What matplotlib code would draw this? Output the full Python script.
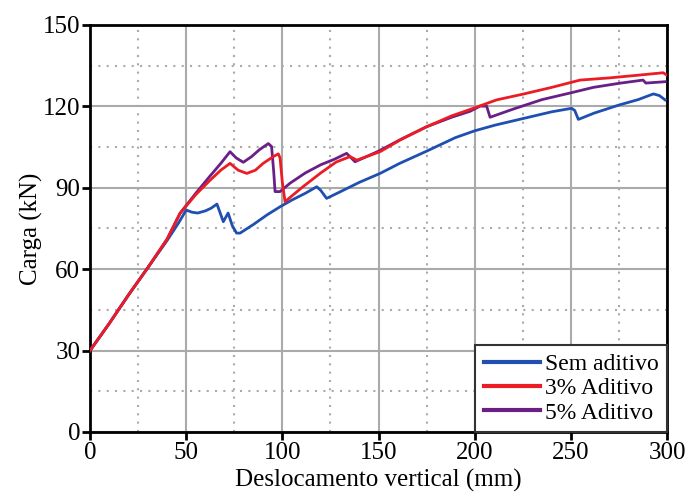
import matplotlib
matplotlib.use("Agg")
import matplotlib.pyplot as plt
from matplotlib.ticker import MultipleLocator

plt.rcParams['font.family'] = ['Liberation Serif', 'DejaVu Serif']

# Sem aditivo
x_sem = [0, 10, 20, 30, 40, 46, 50, 53, 56, 60, 63, 66, 69.3, 71.8, 74, 76.2, 78, 85, 92, 98.8,
         105, 112, 117.9, 120, 123, 130, 140, 150.8, 161, 175, 190, 200, 210.6, 225, 240, 250.4,
         252, 253.9, 262, 275, 285, 292.9, 296, 299]
y_sem = [30, 40, 50.5, 60.5, 70.5, 77, 81.8, 81, 80.7, 81.5, 82.5, 84, 77.5, 80.7, 76, 73.3, 73.3, 76.5, 80, 83,
         85.5, 88, 90.4, 89, 86.1, 88.5, 92, 95.3, 99, 103.5, 108.5, 111, 113.1, 115.5, 118, 119.3,
         118.5, 115.2, 117.5, 120.5, 122.5, 124.6, 124, 122.4]

# 3% Aditivo
x_3 = [0, 10, 20, 30, 40, 46.8, 55, 62, 68, 72.8, 77, 81.5, 86, 90, 95.3, 97.9, 98.8, 100, 101.4,
       110, 120, 128, 135.2, 138.7, 150.8, 161.2, 175, 188, 199.3, 211.4, 225, 240, 254.8, 270,
       285, 298, 300]
y_3 = [30, 40, 50.5, 60.5, 71, 80.6, 87.5, 92.5, 96.5, 99, 96.5, 95.3, 96.5, 99, 101.5, 102.5, 101, 92, 84.9,
       90, 95.5, 99.5, 101.5, 100.2, 103.3, 107.6, 112.5, 116.5, 119.3, 122.4, 124.5, 127, 129.7, 130.5,
       131.5, 132.4, 131.5]

# 5% Aditivo
x_5 = [0, 10, 20, 30, 40, 46.8, 55, 62, 68, 72.8, 76, 79.7, 84, 88, 92.7, 94.4, 95.5, 96.2, 98.8,
       104, 112, 120, 127, 133.4, 137.8, 150, 162, 175, 188, 197.6, 202.8, 206.2, 208, 220,
       235, 250, 261.6, 275, 287.5, 289, 299]
y_5 = [30, 40, 50.5, 60.5, 71, 80.6, 88, 94, 99, 103.3, 101, 99.4, 101.5, 104, 106.3, 105.2, 96, 88.6, 88.6,
       91.7, 95.5, 98.5, 100.5, 102.7, 99.6, 103.5, 108, 112.5, 116, 118.2, 120.1, 120.1, 116, 119,
       122.5, 125, 127, 128.5, 129.7, 128.6, 129.1]

labels = ["Sem aditivo", "3% Aditivo", "5% Aditivo"]
colors = ["#1f4fb0", "#ec1c24", "#6a1f86"]

fig = plt.figure(figsize=(7.0, 4.95), dpi=100)
ax = fig.add_axes([0.1286, 0.1273, 0.8243, 0.8222])

ax.plot(x_sem, y_sem, color=colors[0], lw=2.0, label=labels[0], zorder=3)
ax.plot(x_5, y_5, color=colors[2], lw=2.0, label=labels[2], zorder=3)
ax.plot(x_3, y_3, color=colors[1], lw=2.0, label=labels[1], zorder=4)

ax.set_xlim(0, 300)
ax.set_ylim(0, 150)
ax.xaxis.set_major_locator(MultipleLocator(50))
ax.yaxis.set_major_locator(MultipleLocator(30))
ax.xaxis.set_minor_locator(MultipleLocator(25))
ax.yaxis.set_minor_locator(MultipleLocator(15))

ax.grid(which='major', color='#aaaaaa', lw=1.5, ls='-', zorder=0)
ax.grid(which='minor', color='#aaaaaa', lw=1.5, ls=(0, (1, 3)), zorder=0)
ax.set_axisbelow(True)

ax.tick_params(which='major', direction='out', length=6, width=2, labelsize=18,
               top=False, right=False, pad=1)
ax.tick_params(which='minor', length=0)
for s in ax.spines.values():
    s.set_linewidth(2)
    s.set_color('black')

ax.set_xlabel("Deslocamento vertical (mm)", fontsize=18, labelpad=4)
ax.set_ylabel("Carga (kN)", fontsize=18, labelpad=0)

h, l = ax.get_legend_handles_labels()
order = [0, 2, 1]
leg = ax.legend([h[i] for i in order], [l[i] for i in order], loc='lower right',
                fontsize=17, handlelength=2.4, labelspacing=0.12, borderpad=0.35,
                handletextpad=0.2, fancybox=False, framealpha=1, borderaxespad=0)
leg.get_frame().set_edgecolor('#333333')
leg.get_frame().set_linewidth(1.5)
for line in leg.get_lines():
    line.set_linewidth(3)

fig.savefig("out.png", dpi=100)
